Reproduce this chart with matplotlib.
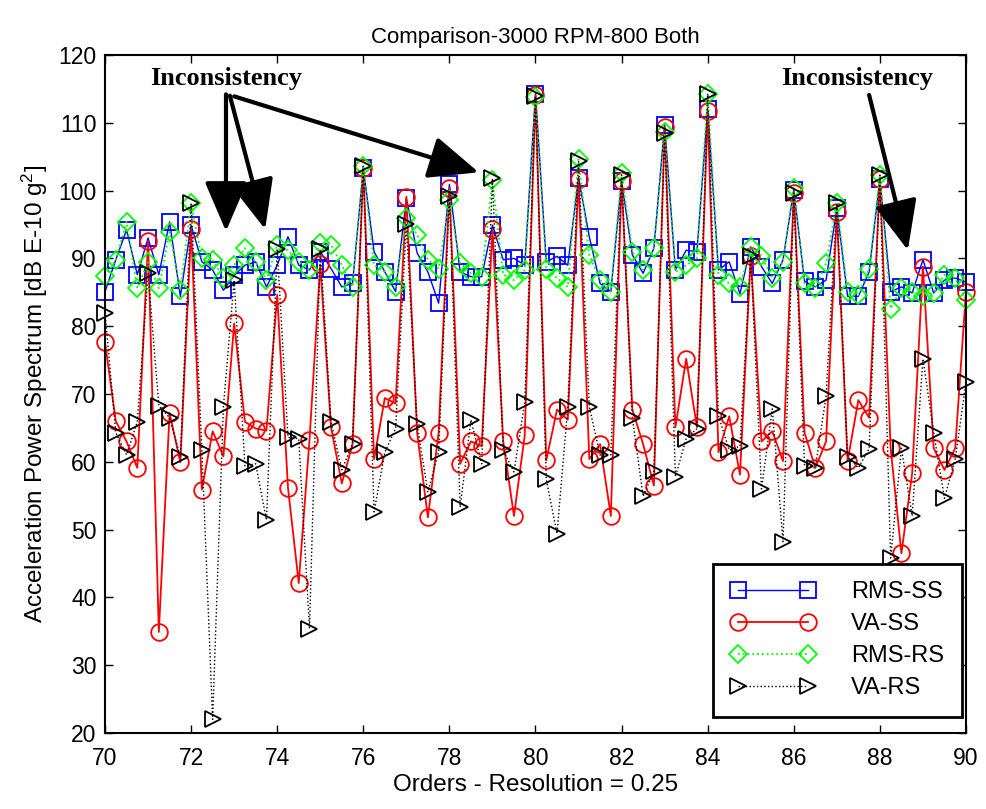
import numpy as np
import matplotlib
matplotlib.use('Agg')
import matplotlib.pyplot as plt

plt.rcParams['font.family'] = ['Liberation Sans', 'DejaVu Sans']
plt.rcParams['mathtext.default'] = 'regular'

# Orders 70..90, resolution 0.25
orders = np.arange(70, 90.001, 0.25)

rms_ss = [85.1, 89.8, 94.2, 87.6, 93.0, 87.6, 95.4, 84.4, 94.9, 89.5,
          88.3, 85.3, 87.5, 89.0, 89.5, 85.8, 89.0, 93.2, 89.0, 88.3,
          91.0, 88.5, 85.8, 86.3, 103.3, 91.0, 88.0, 85.1, 98.9, 90.8,
          88.0, 83.4, 100.9, 88.0, 87.3, 87.3, 94.9, 89.8, 90.0, 89.0,
          114.3, 89.5, 90.3, 89.0, 101.9, 93.2, 86.3, 85.1, 101.4, 90.5,
          87.8, 91.5, 109.7, 88.3, 91.2, 91.0, 112.0, 88.3, 89.5, 84.8,
          91.7, 88.8, 86.3, 89.8, 100.1, 86.6, 85.8, 86.8, 97.4, 84.4,
          84.4, 88.0, 101.7, 85.1, 85.8, 84.9, 89.8, 84.9, 86.8, 87.1,
          86.5]

va_ss = [77.6, 66.0, 63.0, 59.1, 92.6, 34.9, 67.2, 59.9, 94.4, 55.9,
         64.5, 60.8, 80.4, 65.9, 64.9, 64.6, 84.6, 56.2, 42.1, 63.2,
         89.1, 65.1, 56.8, 62.6, 103.4, 60.4, 69.4, 68.6, 99.1, 64.3,
         51.8, 64.3, 100.4, 59.7, 63.0, 62.3, 94.3, 63.0, 52.0, 63.9,
         114.1, 60.2, 67.7, 66.2, 101.7, 60.4, 62.6, 52.0, 101.4, 67.7,
         62.6, 56.5, 109.4, 65.1, 75.2, 65.1, 111.7, 61.4, 66.7, 58.1,
         90.3, 63.0, 64.5, 60.1, 99.7, 64.3, 59.1, 63.0, 96.8, 60.1,
         69.1, 66.5, 101.7, 62.0, 46.5, 58.3, 88.8, 62.0, 58.8, 62.0,
         85.1]

rms_rs = [87.4, 89.7, 95.4, 85.6, 89.5, 85.6, 93.9, 85.3, 98.1, 90.0,
          89.8, 87.1, 89.0, 91.5, 89.5, 86.8, 92.0, 91.2, 89.5, 88.3,
          92.2, 92.0, 89.0, 85.8, 103.6, 89.0, 88.0, 85.8, 95.9, 93.5,
          89.8, 88.5, 98.6, 89.3, 87.8, 87.3, 101.5, 87.6, 86.8, 88.3,
          113.8, 88.5, 87.1, 85.8, 104.6, 90.5, 86.8, 85.1, 102.6, 91.0,
          88.3, 91.5, 108.6, 88.0, 89.0, 90.0, 114.3, 87.6, 86.3, 85.8,
          91.7, 90.3, 87.1, 89.5, 100.4, 86.3, 85.6, 89.3, 98.1, 85.1,
          84.6, 88.5, 102.3, 82.6, 85.6, 85.1, 84.4, 84.9, 87.6, 87.1,
          83.9]

va_rs = [82.0, 64.3, 61.0, 65.9, 87.8, 68.3, 66.5, 60.7, 98.1, 61.7,
         22.0, 68.1, 86.8, 59.4, 59.7, 51.4, 91.4, 63.6, 63.4, 35.4,
         91.4, 65.9, 58.8, 62.6, 103.6, 52.6, 61.4, 64.9, 95.0, 65.5,
         55.5, 61.5, 99.2, 53.3, 66.2, 59.7, 101.8, 61.7, 58.5, 68.8,
         113.9, 57.4, 49.4, 68.1, 104.3, 68.1, 61.0, 61.0, 102.3, 66.5,
         54.9, 58.6, 108.5, 57.8, 63.4, 64.9, 114.3, 66.8, 61.7, 62.3,
         90.4, 56.0, 67.8, 48.2, 99.7, 59.4, 59.1, 69.7, 98.1, 60.7,
         59.1, 61.9, 102.3, 45.8, 62.0, 52.0, 75.2, 64.3, 54.6, 60.4,
         71.7]

fig = plt.figure(figsize=(9.87, 8.09), dpi=100)
ax = fig.add_axes([0.1064, 0.094, 0.8723, 0.838])

ax.plot(orders, rms_ss, '-', color='#0000ff', lw=1.0, marker='s', ms=11,
        mfc='none', mec='#0000ff', mew=1.3, label='RMS-SS', clip_on=False)
ax.plot(orders, va_ss, '-', color='#ff0000', lw=1.3, marker='o', ms=12,
        mfc='none', mec='#ff0000', mew=1.3, label='VA-SS', clip_on=False)
ax.plot(orders, rms_rs, ':', color='#00ff00', lw=1.3, marker='D', ms=9,
        mfc='none', mec='#00ff00', mew=1.3, label='RMS-RS', clip_on=False)
ax.plot(orders, va_rs, ':', color='black', lw=1.0, marker='>', ms=12,
        mfc='none', mec='black', mew=1.3, label='VA-RS', clip_on=False)

ax.set_xlim(70, 90)
ax.set_ylim(20, 120)
ax.set_xticks(np.arange(70, 91, 2))
ax.set_yticks(np.arange(20, 121, 10))
ax.tick_params(direction='in', top=True, right=True, labelsize=16.5, length=6, width=1)
ax.tick_params(axis='x', pad=10)
ax.tick_params(axis='y', pad=6)
for s in ax.spines.values():
    s.set_linewidth(1.5)

ax.set_title('Comparison-3000 RPM-800 Both', fontsize=16, pad=9)
ax.set_xlabel('Orders - Resolution = 0.25', fontsize=17.5, labelpad=3)
ax.set_ylabel('Acceleration Power Spectrum [dB E-10 g$^2$]', fontsize=17.5, labelpad=6)

leg = ax.legend(loc='lower right', fontsize=17, numpoints=2, handlelength=3.6,
                fancybox=False, edgecolor='black', framealpha=1,
                borderpad=0.75, labelspacing=0.42, handletextpad=1.5,
                borderaxespad=0, bbox_to_anchor=(0.995, 0.024))
leg.get_frame().set_linewidth(2)

# annotations
txt_kw = dict(fontsize=19, fontweight='bold', family='Liberation Serif',
              ha='center', va='center')
arr = dict(arrowstyle='-|>,head_length=1.4,head_width=0.6', lw=3,
           color='black', mutation_scale=22, shrinkA=0, shrinkB=0)
ax.text(72.81, 116.6, 'Inconsistency', **txt_kw)
ax.annotate('', xy=(72.81, 94.0), xytext=(72.81, 114.2), arrowprops=arr)
ax.annotate('', xy=(73.72, 94.3), xytext=(72.9, 114.0), arrowprops=arr)
ax.annotate('', xy=(78.68, 102.7), xytext=(73.0, 113.9), arrowprops=arr)
ax.text(87.47, 116.6, 'Inconsistency', **txt_kw)
ax.annotate('', xy=(88.65, 91.2), xytext=(87.75, 114.1), arrowprops=arr)

fig.savefig('out.png', dpi=100)
